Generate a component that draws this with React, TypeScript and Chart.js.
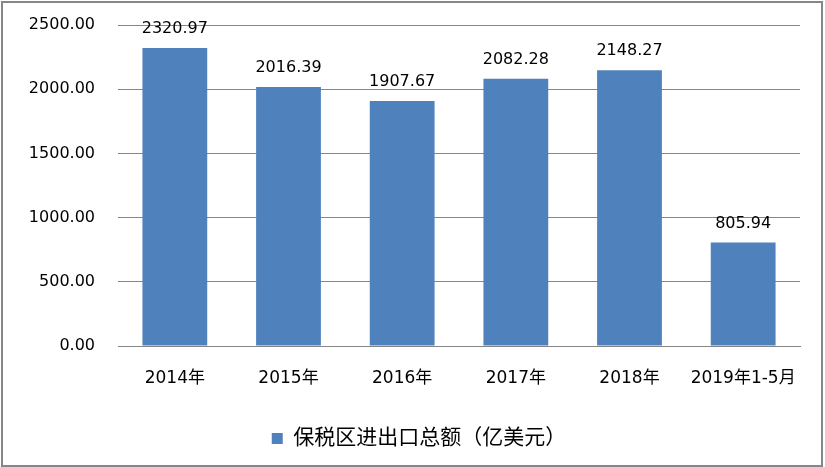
import React, { useEffect, useRef } from "react";
import { Chart, registerables } from "chart.js";

Chart.register(...registerables);

const categories = ["2014年", "2015年", "2016年", "2017年", "2018年", "2019年1-5月"];
const values = [2320.97, 2016.39, 1907.67, 2082.28, 2148.27, 805.94];
const seriesName = "保税区进出口总额（亿美元）";
const yMin = 0;
const yMax = 2500;
const yStep = 500;

const FONT = '"DejaVu Sans", "Noto Sans CJK SC", sans-serif';

const borderPlugin = {
  id: "outerBorder",
  afterDraw(chart: any) {
    const ctx = chart.ctx;
    ctx.save();
    ctx.strokeStyle = "#868686";
    ctx.lineWidth = 2;
    ctx.strokeRect(2, 2, chart.width - 5, chart.height - 3);
    ctx.restore();
  },
};

const legendShiftPlugin = {
  id: "legendShift",
  afterLayout(chart: any) {
    const lg = chart.legend;
    if (lg) {
      lg.left += 19;
      lg.right += 19;
    }
  },
};

const dataLabelPlugin = {
  id: "dataLabels",
  afterDatasetsDraw(chart: any) {
    const ctx = chart.ctx;
    const meta = chart.getDatasetMeta(0);
    const data = chart.data.datasets[0].data as number[];
    ctx.save();
    ctx.font = `16px ${FONT}`;
    ctx.fillStyle = "#000";
    ctx.textAlign = "center";
    ctx.textBaseline = "alphabetic";
    meta.data.forEach((bar: any, i: number) => {
      ctx.fillText(data[i].toFixed(2), bar.x, bar.y - 15);
    });
    ctx.restore();
  },
};

export default function App() {
  const ref = useRef<HTMLCanvasElement>(null);
  useEffect(() => {
    document.body.style.margin = "0";
    const chart = new Chart(ref.current!, {
      type: "bar",
      data: {
        labels: categories,
        datasets: [
          {
            label: seriesName,
            data: values,
            backgroundColor: "#4F81BD",
            borderWidth: 0,
            categoryPercentage: 1,
            barPercentage: 0.57,
          },
        ],
      },
      options: {
        animation: false,
        responsive: false,
        devicePixelRatio: 1,
        layout: { padding: { left: 0, right: 25, top: 25, bottom: 8 } },
        plugins: {
          legend: {
            position: "bottom",
            labels: {
              boxWidth: 11,
              boxHeight: 11,
              padding: 10,
              color: "#000",
              font: { family: FONT, size: 21 },
            },
          },
          tooltip: { enabled: false },
        },
        scales: {
          x: {
            grid: { display: false, drawTicks: false },
            border: { display: true, color: "#868686", width: 1 },
            ticks: { color: "#000", font: { family: FONT, size: 17 }, padding: 22, maxRotation: 0 },
            afterFit(scale: any) {
              scale.height = 72;
            },
          },
          y: {
            min: yMin,
            max: yMax,
            grid: { color: "#868686", drawTicks: false },
            border: { display: false },
            ticks: {
              stepSize: yStep,
              color: "#000",
              padding: 23,
              font: { family: FONT, size: 16 },
              callback: (v: any) => Number(v).toFixed(2),
            },
            afterFit(scale: any) {
              scale.width = 118;
              scale.paddingTop = 10;
              scale.paddingBottom = 10;
            },
          },
        },
      },
      plugins: [dataLabelPlugin, borderPlugin, legendShiftPlugin],
    });
    return () => chart.destroy();
  }, []);
  return (
    <div style={{ position: "absolute", left: 0, top: 0, width: 825, height: 467, background: "#fff" }}>
      <canvas ref={ref} width={825} height={467} />
    </div>
  );
}
